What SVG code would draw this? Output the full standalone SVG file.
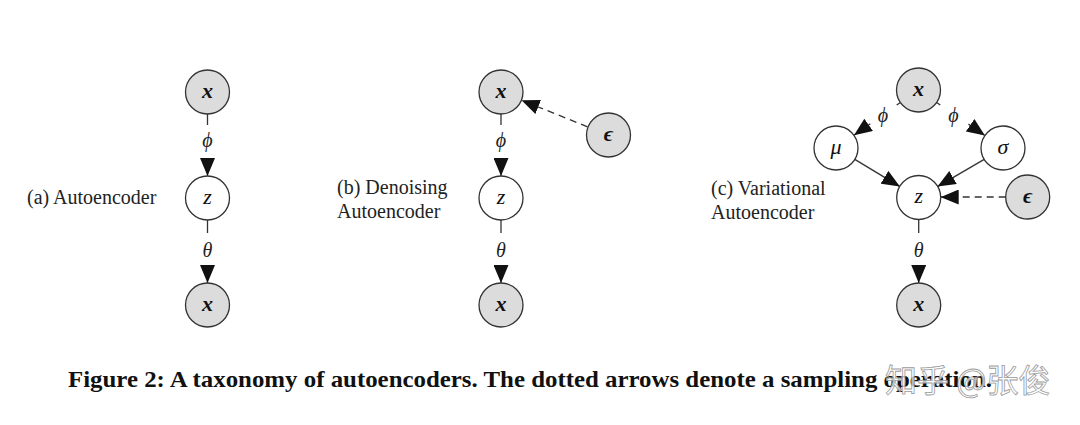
<svg xmlns="http://www.w3.org/2000/svg" width="1080" height="425" viewBox="0 0 1080 425">
<style>
  .obs { fill: #dcdcdc; stroke: #333; stroke-width: 1.3; }
  .lat { fill: #ffffff; stroke: #333; stroke-width: 1.3; }
  .nl { font-family: "Liberation Serif", "DejaVu Serif", serif; font-style: italic; font-size: 22px; fill: #111; text-anchor: middle; }
  .nlb { font-weight: bold; }
  .el { font-family: "Liberation Serif", "DejaVu Serif", serif; font-style: italic; font-size: 20px; fill: #222; text-anchor: middle; }
  .pl { font-family: "Liberation Serif", "DejaVu Serif", serif; font-size: 20px; fill: #222; }
  .edge { stroke: #333; stroke-width: 1.3; fill: none; }
  .dash { stroke-dasharray: 7 5; }
  .cap { font-family: "Liberation Serif", "DejaVu Serif", serif; font-weight: bold; font-size: 24px; fill: #111; }
  .wm { font-family: "Noto Sans CJK SC", "Liberation Sans", sans-serif; font-size: 32px; fill: #ffffff; fill-opacity: 0.75; stroke: #9a9a9a; stroke-width: 0.8; }
</style>
<defs>
  <marker id="arr" markerUnits="userSpaceOnUse" markerWidth="18" markerHeight="15" refX="18" refY="7.5" orient="auto">
    <path d="M0,0 L18,7.5 L0,15 z" fill="#111"/>
  </marker>
</defs>
<rect width="1080" height="425" fill="#ffffff"/>

<g id="connectors">
  <!-- (a) -->
  <line class="edge" x1="207.5" y1="114" x2="207.5" y2="125"/>
  <line class="edge" x1="207.5" y1="158" x2="207.5" y2="176" marker-end="url(#arr)"/>
  <line class="edge" x1="207.5" y1="220" x2="207.5" y2="233"/>
  <line class="edge" x1="207.5" y1="265" x2="207.5" y2="283" marker-end="url(#arr)"/>
  <!-- (b) -->
  <line class="edge" x1="501" y1="114" x2="501" y2="125"/>
  <line class="edge" x1="501" y1="158" x2="501" y2="176" marker-end="url(#arr)"/>
  <line class="edge" x1="501" y1="220" x2="501" y2="233"/>
  <line class="edge" x1="501" y1="265" x2="501" y2="283" marker-end="url(#arr)"/>
  <line class="edge dash" x1="587.5" y1="126.8" x2="521.5" y2="100.2" marker-end="url(#arr)"/>
  <!-- (c) -->
  <line class="edge" x1="900" y1="102.7" x2="896.7" y2="105"/>
  <line class="edge" x1="870.3" y1="123.7" x2="854" y2="135.3" marker-end="url(#arr)"/>
  <line class="edge" x1="937" y1="102.7" x2="940.3" y2="105"/>
  <line class="edge" x1="968.5" y1="124.1" x2="984.9" y2="135.5" marker-end="url(#arr)"/>
  <line class="edge" x1="854.8" y1="159.4" x2="899.9" y2="186.6" marker-end="url(#arr)"/>
  <line class="edge" x1="984.2" y1="159.4" x2="937.5" y2="186.6" marker-end="url(#arr)"/>
  <line class="edge dash" x1="1005.7" y1="197" x2="940.7" y2="197" marker-end="url(#arr)"/>
  <line class="edge" x1="918.7" y1="220" x2="918.7" y2="233"/>
  <line class="edge" x1="918.7" y1="265" x2="918.7" y2="283" marker-end="url(#arr)"/>
  <!-- edge labels -->
  <text class="el" x="207.5" y="147">ϕ</text>
  <text class="el" x="207.5" y="257">θ</text>
  <text class="el" x="501" y="147">ϕ</text>
  <text class="el" x="501" y="257">θ</text>
  <text class="el" x="883" y="122">ϕ</text>
  <text class="el" x="953.5" y="122">ϕ</text>
  <text class="el" x="918.7" y="257">θ</text>
</g>

<g id="a-x-top"><circle class="obs" cx="207.5" cy="92" r="22"/><text class="nl nlb" x="207.5" y="97.5">x</text></g>
<g id="a-z"><circle class="lat" cx="207.5" cy="198" r="22"/><text class="nl" x="207.5" y="203.5">z</text></g>
<g id="a-x-bottom"><circle class="obs" cx="207.5" cy="305" r="22"/><text class="nl nlb" x="207.5" y="310.5">x</text></g>
<g id="a-label"><text class="pl" x="27" y="203.5">(a) Autoencoder</text></g>

<g id="b-x-top"><circle class="obs" cx="501" cy="92" r="22"/><text class="nl nlb" x="501" y="97.5">x</text></g>
<g id="b-eps"><circle class="obs" cx="608.5" cy="135" r="22"/><text class="nl nlb" x="608.5" y="140.5">ϵ</text></g>
<g id="b-z"><circle class="lat" cx="501" cy="198" r="22"/><text class="nl" x="501" y="203.5">z</text></g>
<g id="b-x-bottom"><circle class="obs" cx="501" cy="305" r="22"/><text class="nl nlb" x="501" y="310.5">x</text></g>
<g id="b-label"><text class="pl" x="337" y="194">(b) Denoising</text><text class="pl" x="337" y="218">Autoencoder</text></g>

<g id="c-x-top"><circle class="obs" cx="918.5" cy="90" r="22"/><text class="nl nlb" x="918.5" y="95.5">x</text></g>
<g id="c-mu"><circle class="lat" cx="836" cy="148" r="22"/><text class="nl" x="836" y="153.5">μ</text></g>
<g id="c-sigma"><circle class="lat" cx="1003" cy="148" r="22"/><text class="nl" x="1003" y="153.5">σ</text></g>
<g id="c-z"><circle class="lat" cx="918.7" cy="197.5" r="22"/><text class="nl" x="918.7" y="203">z</text></g>
<g id="c-eps"><circle class="obs" cx="1027.7" cy="197" r="22"/><text class="nl nlb" x="1027.7" y="202.5">ϵ</text></g>
<g id="c-x-bottom"><circle class="obs" cx="918.7" cy="305" r="22"/><text class="nl nlb" x="918.7" y="310.5">x</text></g>
<g id="c-label"><text class="pl" x="711" y="195">(c) Variational</text><text class="pl" x="711" y="219">Autoencoder</text></g>

<g id="caption">
  <text class="cap" x="68" y="387" textLength="924" lengthAdjust="spacingAndGlyphs">Figure 2: A taxonomy of autoencoders. The dotted arrows denote a sampling operation.</text>
  <text class="wm" x="885" y="392">知乎 @张俊</text>
</g>
</svg>
